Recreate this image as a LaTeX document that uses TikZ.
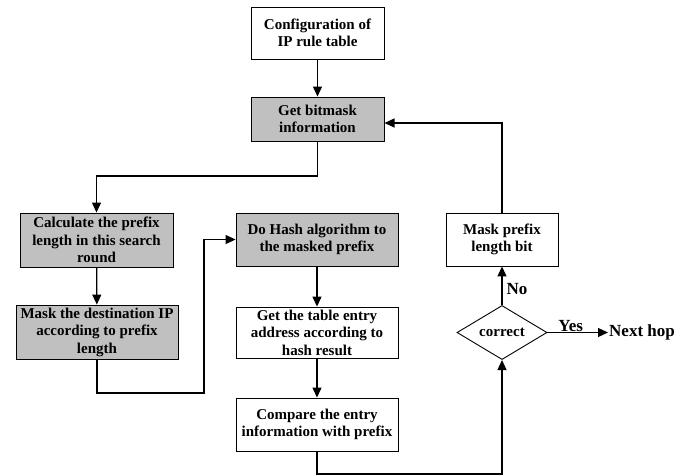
\documentclass[tikz,border=0pt]{standalone}
\usepackage{fontspec}
\setmainfont{Liberation Serif}
\usetikzlibrary{arrows.meta,shapes.geometric,calc}
\definecolor{boxgrey}{RGB}{192,192,192}
\begin{document}
\begin{tikzpicture}[x=1pt,y=-1pt,
  txt/.style={font=\fontsize{15}{17.5}\selectfont\bfseries},
  stepbox/.style={draw=black,line width=0.9pt,inner sep=0pt,align=center,txt},
  greybox/.style={stepbox,fill=boxgrey},
  decision/.style={draw=black,line width=0.9pt,diamond,inner sep=0pt,
    minimum width=90pt,minimum height=53pt,txt},
  flow/.style={line width=1.2pt,-{Triangle[length=10pt,width=9pt]}},
  lbl/.style={inner sep=1pt,font=\fontsize{17}{19}\selectfont\bfseries}]
  \useasboundingbox (0,0) rectangle (697,475);

  % process boxes
  \node[stepbox,minimum width=133pt,minimum height=52pt] (cfg) at (317.5,33)
    {Configuration of\\IP rule table};
  \node[greybox,minimum width=133pt,minimum height=44pt] (bit) at (317.5,119)
    {Get bitmask\\information};
  \node[greybox,minimum width=153pt,minimum height=54pt] (calc) at (96.5,240)
    {Calculate the prefix\\length in this search\\round};
  \node[greybox,minimum width=162pt,minimum height=54pt] (maskip) at (97,332)
    {Mask the destination IP\\according to prefix\\length};
  \node[greybox,minimum width=162pt,minimum height=53pt] (hash) at (317,239.5)
    {Do Hash algorithm to\\the masked prefix};
  \node[stepbox,minimum width=162pt,minimum height=51pt] (entry) at (317,332.5)
    {Get the table entry\\address according to\\hash result};
  \node[stepbox,minimum width=162pt,minimum height=53pt] (cmp) at (317,424.5)
    {Compare the entry\\information with prefix};
  \node[stepbox,minimum width=112pt,minimum height=53pt] (mpl) at (502,239.5)
    {Mask prefix\\length bit};
  \node[decision] (ok) at (502,332.5) {correct};
  \node[lbl,anchor=west] (next) at (608,332.5) {Next hop};

  % routing points
  \coordinate (split) at (317.5,176);
  \coordinate (low) at (97,393);
  \coordinate (jog) at (204,393);
  \coordinate (base) at (317,474);
  \coordinate (top) at (502,123);
  \coordinate (back) at (384.5,123);

  % connectors
  \draw[flow] (cfg) -- (bit);
  \draw[flow] (bit.south) -- (split) -| (calc.north);
  \draw[flow] (calc) -- (maskip);
  \draw[flow] (maskip.south) -- (low) -- (jog) |- (hash.west);
  \draw[flow] (hash) -- (entry);
  \draw[flow] (entry) -- (cmp);
  \draw[flow] (cmp.south) -- (base) -| (ok.south);
  \draw[flow] (ok.north) -- node[lbl,anchor=west,xshift=3pt,yshift=-3pt]{No} (mpl.south);
  \draw[flow] (mpl.north) -- (top) -- (back);
  \draw[flow] (ok.east) -- node[lbl,anchor=south,xshift=-7pt,yshift=-1pt]{Yes} (next.west);
\end{tikzpicture}
\end{document}
